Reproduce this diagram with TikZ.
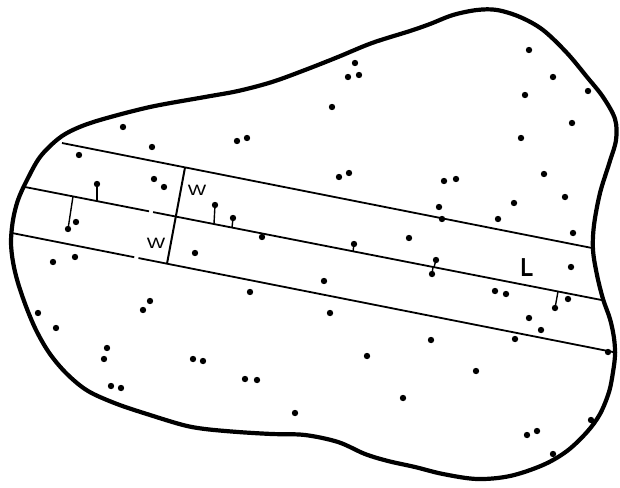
\documentclass[tikz,border=0pt]{standalone}
\usepackage{fontspec}
\setmainfont{Liberation Sans}
\usetikzlibrary{calc}
\begin{document}
\begin{tikzpicture}[x=1pt,y=-1pt,
  outline/.style={line width=4.2pt,line join=round},
  strip/.style={line width=1.8pt},
  perp/.style={line width=2pt},
  stem/.style={line width=1.4pt},
  wlabel/.style={font=\fontsize{15}{15}\selectfont,inner sep=0pt},
  llabel/.style={font=\fontsize{26}{26}\selectfont\bfseries,inner sep=0pt}]
\useasboundingbox (0,0) rectangle (620,487);
% region outline
\draw[outline] plot[smooth cycle,tension=0.55] coordinates{
 (410,31) (430,24) (453,15) (477,10) (497,10) (520,17) (543,30) (567,53)
 (587,77) (603,97) (615,119) (616,140) (609,164) (600,193) (594,225) (593,250)
 (597,275) (603,299) (610,319) (614,338) (615,355) (613,372) (609,392) (600,414)
 (587,432) (567,451) (543,465) (510,476) (477,479) (443,474) (415,467) (388,461)
 (365,454) (338,442) (305,435) (272,434) (238,432) (205,429) (183,425) (150,415)
 (117,404) (88,391) (67,374) (50,354) (37,332) (27,309) (18,283) (13,262)
 (11,242) (13,220) (18,200) (27,180) (40,157) (58,139) (75,129) (100,120)
 (150,107) (205,97) (238,91) (272,82) (305,70) (338,57) (372,43)};
% strip lines
\coordinate (t1) at (62,143);  \coordinate (t2) at (592,248);
\coordinate (m1) at (25,187);  \coordinate (m2) at (602,300.1);
\coordinate (b1) at (12,233);  \coordinate (b2) at (617,352.8);
\draw[strip] (t1) -- (t2);
\draw[strip] (m1) -- ($(m1)!0.215!(m2)$);
\draw[strip] ($(m1)!0.222!(m2)$) -- (m2);
\draw[strip] (b1) -- ($(b1)!0.202!(b2)$);
\draw[strip] ($(b1)!0.209!(b2)$) -- (b2);
% width segment
\coordinate (p1) at (185,167.5); \coordinate (p2) at (167,263.7);
\draw[perp] (p1) -- (p2);
\node[wlabel] (w1) at (197,190) {\scalebox{1.3}[1]{W}};
\node[wlabel] (w2) at (156,243) {\scalebox{1.3}[1]{W}};
\node[llabel] (lab) at (527,268) {\scalebox{0.8}[1]{L}};
% stems
\draw[stem] (97,184) -- (97,201);
\draw[stem] (215,205) -- (214,223.6);
\draw[stem] (233,218) -- (232,227.6);
\draw[stem] (68,229) -- (73,196.4);
\draw[stem] (354,244) -- (353,251.5);
\draw[stem] (436,260) -- (434,267.2);
\draw[stem] (432,274) -- (433,267);
\draw[stem] (555,308) -- (558,291.5);
% dots
\foreach \p in {
 (123,127),(152,147),(79,155),(237,141),(247,138),(332,107),(348,77),(359,75),(355,63),
 (339,177),(349,173),(529,50),(553,77),(525,95),(588,91),(572,123),(521,138),(544,174),
 (444,181),(456,179),(514,203),(565,197),(439,207),(442,219),(498,219),(573,233),
 (154,179),(164,187),(97,184),(215,205),(233,218),(409,238),(354,244),(436,260),(571,267),
 (68,229),(432,274),(555,308),(262,237),(568,299),
 (76,222),(195,253),(324,281),(495,291),(506,294),(529,318),(541,330),(515,339),(608,352),
 (53,262),(75,257),(250,292),(330,313),(431,340),(367,356),(476,371),(150,301),(143,310),
 (38,313),(56,328),(107,348),(104,359),(193,359),(203,361),(111,386),(121,388),(245,379),
 (257,380),(295,413),(403,398),(591,420),(537,431),(527,435),(553,454)}
 \fill \p circle (3.2pt);
\end{tikzpicture}
\end{document}
